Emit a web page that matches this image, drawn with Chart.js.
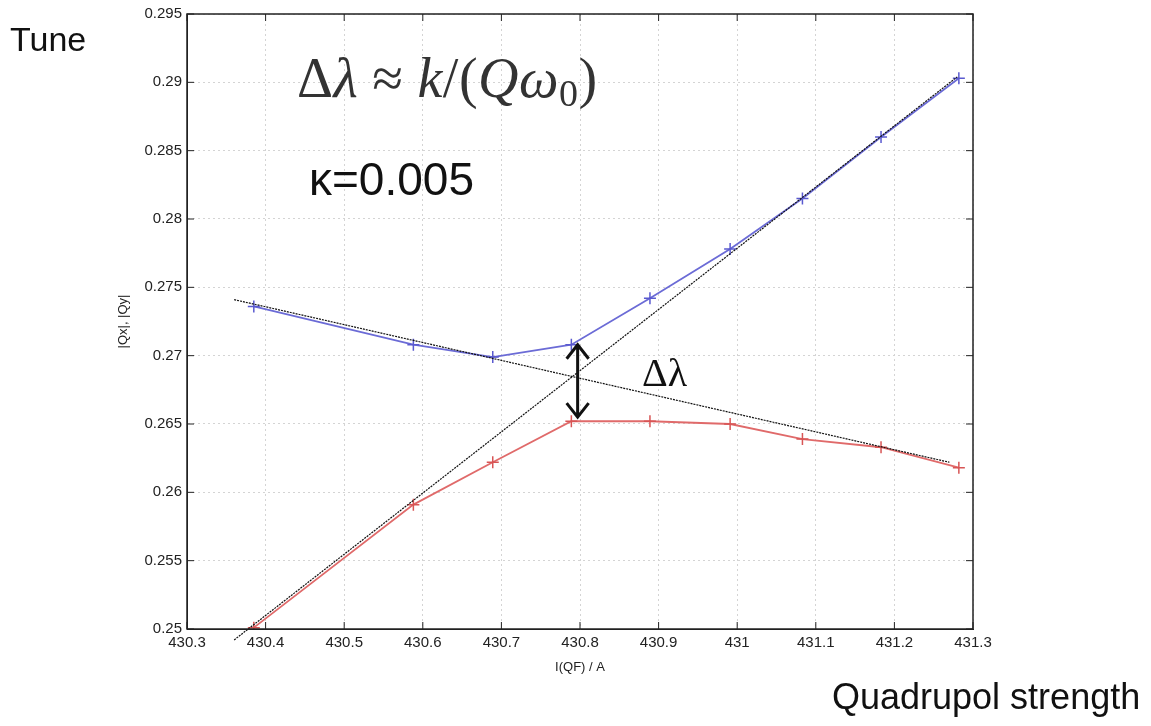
<!DOCTYPE html>
<html>
<head>
<meta charset="utf-8">
<script src="https://cdn.jsdelivr.net/npm/chart.js@4"></script>
<style>
    body { margin: 0; background: #fff; }
    canvas { display: block; }
</style>
</head>
<body>
<canvas id="tuneChart" width="1151" height="726"></canvas>
<script>
// Quadrupole current I(QF) in A
const currents = [430.385, 430.588, 430.689, 430.789, 430.889, 430.991, 431.083, 431.183, 431.282];
// measured tunes
const qxTune = [0.2736, 0.2708, 0.2699, 0.2708, 0.2742, 0.2778, 0.2815, 0.2860, 0.2903];
const qyTune = [0.2501, 0.2591, 0.2622, 0.2652, 0.2652, 0.2650, 0.2639, 0.2633, 0.2618];

// uncoupled tune lines (dotted)
const lineAx = [430.36, 431.27];
const lineAy = [0.2741, 0.2622];
const lineBx = [430.36, 431.28];
const lineBy = [0.2492, 0.2904];

// closest approach arrow
const gapX = 430.797;
const gapY = [0.2655, 0.2708];

const xTicks = [430.3, 430.4, 430.5, 430.6, 430.7, 430.8, 430.9, 431, 431.1, 431.2, 431.3];
const yTicks = [0.25, 0.255, 0.26, 0.265, 0.27, 0.275, 0.28, 0.285, 0.29, 0.295];

const toPoints = (xs, ys) => xs.map((x, i) => ({ x: x, y: ys[i] }));

const tickFont = { family: 'Liberation Sans, Arial, sans-serif', size: 15 };

// frame, inward ticks and the free text on the slide
const slidePlugin = {
    id: 'slide',
    afterDraw(chart) {
        const ctx = chart.ctx;
        const area = chart.chartArea;
        const xs = chart.scales.x;
        const ys = chart.scales.y;
        ctx.save();

        // frame
        ctx.strokeStyle = '#222';
        ctx.lineWidth = 1.5;
        ctx.setLineDash([]);
        ctx.strokeRect(area.left, area.top, area.right - area.left, area.bottom - area.top);

        // inward tick marks
        ctx.lineWidth = 1;
        ctx.beginPath();
        xTicks.forEach(v => {
            const px = xs.getPixelForValue(v);
            ctx.moveTo(px, area.bottom); ctx.lineTo(px, area.bottom - 7);
            ctx.moveTo(px, area.top); ctx.lineTo(px, area.top + 7);
        });
        yTicks.forEach(v => {
            const py = ys.getPixelForValue(v);
            ctx.moveTo(area.left, py); ctx.lineTo(area.left + 7, py);
            ctx.moveTo(area.right, py); ctx.lineTo(area.right - 7, py);
        });
        ctx.stroke();

        // double arrow for the tune gap
        const ax = xs.getPixelForValue(gapX);
        const y1 = ys.getPixelForValue(gapY[1]);
        const y2 = ys.getPixelForValue(gapY[0]);
        ctx.strokeStyle = '#111';
        ctx.lineWidth = 3;
        ctx.beginPath();
        ctx.moveTo(ax, y1); ctx.lineTo(ax, y2);
        ctx.moveTo(ax - 11, y1 + 14); ctx.lineTo(ax, y1); ctx.lineTo(ax + 11, y1 + 14);
        ctx.moveTo(ax - 11, y2 - 14); ctx.lineTo(ax, y2); ctx.lineTo(ax + 11, y2 - 14);
        ctx.stroke();

        ctx.fillStyle = '#111';
        ctx.textBaseline = 'alphabetic';
        ctx.textAlign = 'left';

        // labels
        ctx.font = '34px "Liberation Sans", Arial, sans-serif';
        ctx.fillText('Tune', 10, 51);
        ctx.font = '36px "Liberation Sans", Arial, sans-serif';
        ctx.fillText('Quadrupol strength', 832, 709);

        ctx.font = '46px "Liberation Sans", Arial, sans-serif';
        ctx.fillText('\u03BA=0.005', 309, 195);

        ctx.font = '40px "Liberation Serif", serif';
        ctx.fillText('\u0394\u03BB', 642, 386);

        // formula: Δλ ≈ k/(Qω0)
        ctx.fillStyle = '#333';
        const serif = '"Liberation Serif", "DejaVu Serif", serif';
        const parts = [
            ['\u0394', '56px ' + serif, 0],
            ['\u03BB', 'italic 56px ' + serif, 0],
            [' \u2248 ', '56px ' + serif, 0],
            ['k', 'italic 56px ' + serif, 0],
            ['/', '56px ' + serif, 0],
            ['(', '56px ' + serif, 0],
            ['Q', 'italic 56px ' + serif, 0],
            ['\u03C9', 'italic 56px ' + serif, 0],
            ['0', '38px ' + serif, 9],
            [')', '56px ' + serif, 0]
        ];
        let fx = 297;
        parts.forEach(p => {
            ctx.font = p[1];
            ctx.fillText(p[0], fx, 97 + p[2]);
            fx += ctx.measureText(p[0]).width + 0.5;
        });

        ctx.restore();
    }
};

const ctx = document.getElementById('tuneChart').getContext('2d');
new Chart(ctx, {
    type: 'scatter',
    data: {
        datasets: [
            {
                label: 'uncoupled 1',
                data: toPoints(lineAx, lineAy),
                showLine: true,
                borderColor: '#111',
                borderWidth: 1.2,
                borderDash: [2, 1],
                pointRadius: 0,
                clip: false
            },
            {
                label: 'uncoupled 2',
                data: toPoints(lineBx, lineBy),
                showLine: true,
                borderColor: '#111',
                borderWidth: 1.2,
                borderDash: [2, 1],
                pointRadius: 0,
                clip: false
            },
            {
                label: '|Qx|',
                data: toPoints(currents, qxTune),
                showLine: true,
                borderColor: '#6b6bd6',
                borderWidth: 1.8,
                pointStyle: 'cross',
                pointRadius: 6,
                pointBorderWidth: 1.5,
                pointBorderColor: '#5a5ad0'
            },
            {
                label: '|Qy|',
                data: toPoints(currents, qyTune),
                showLine: true,
                borderColor: '#e06a6a',
                borderWidth: 1.8,
                pointStyle: 'cross',
                pointRadius: 6,
                pointBorderWidth: 1.5,
                pointBorderColor: '#d85555'
            }
        ]
    },
    options: {
        responsive: false,
        animation: false,
        layout: { padding: { left: 112, right: 178, top: 12, bottom: 47 } },
        plugins: {
            legend: { display: false },
            tooltip: { enabled: false }
        },
        scales: {
            x: {
                type: 'linear',
                min: 430.3,
                max: 431.3,
                afterBuildTicks: scale => { scale.ticks = xTicks.map(v => ({ value: v })); },
                afterFit: scale => { scale.height = 50; },
                ticks: {
                    autoSkip: false,
                    maxRotation: 0,
                    padding: 5,
                    color: '#222',
                    font: tickFont,
                    callback: v => String(parseFloat(v.toFixed(3)))
                },
                grid: { color: '#d4d4d4', lineWidth: 1, drawTicks: false },
                border: { color: '#222', dash: [2, 3] },
                title: {
                    display: true,
                    text: 'I(QF) / A',
                    color: '#222',
                    font: { family: 'Liberation Sans, Arial, sans-serif', size: 13 }
                }
            },
            y: {
                type: 'linear',
                min: 0.25,
                max: 0.295,
                afterBuildTicks: scale => { scale.ticks = yTicks.map(v => ({ value: v })); },
                afterFit: scale => { scale.width = 75; },
                ticks: {
                    autoSkip: false,
                    padding: 5,
                    color: '#222',
                    font: tickFont,
                    callback: v => String(parseFloat(v.toFixed(3)))
                },
                grid: { color: '#d4d4d4', lineWidth: 1, drawTicks: false },
                border: { color: '#222', dash: [2, 3] },
                title: {
                    display: true,
                    text: '|Qx|, |Qy|',
                    color: '#222',
                    font: { family: 'Liberation Sans, Arial, sans-serif', size: 13 }
                }
            }
        }
    },
    plugins: [slidePlugin]
});
</script>
</body>
</html>
